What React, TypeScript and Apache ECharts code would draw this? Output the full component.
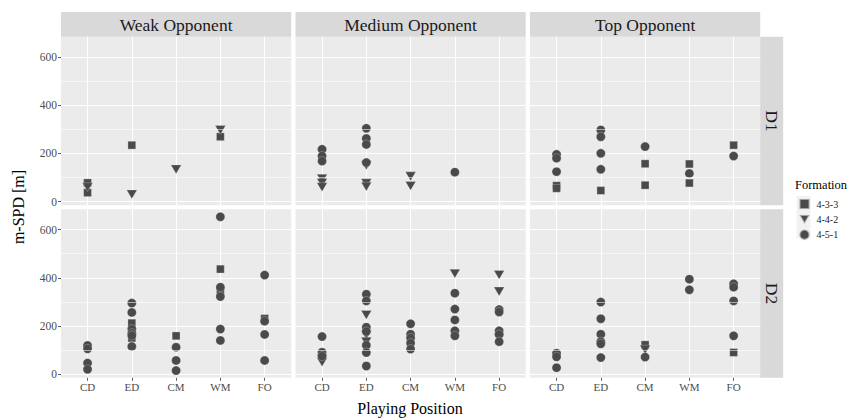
import React, { useEffect, useRef } from "react";
import * as echarts from "echarts";

const positions = ["CD", "ED", "CM", "WM", "FO"];
const opponents = ["Weak Opponent", "Medium Opponent", "Top Opponent"];
const divisions = ["D1", "D2"];
const formations = ["4-3-3", "4-4-2", "4-5-1"];
const yTicks = [0, 200, 400, 600];
const yMinor = [100, 300, 500];

type P = [string, number];

// D1
const weakD1_433: P[] = [["CD", 78], ["CD", 37], ["ED", 234], ["WM", 269]];
const weakD1_442: P[] = [["CD", 60], ["ED", 30], ["CM", 134], ["WM", 297]];
const weakD1_451: P[] = [];

const medD1_433: P[] = [];
const medD1_442: P[] = [["CD", 95], ["CD", 78], ["CD", 60], ["ED", 150], ["ED", 76], ["ED", 62], ["CM", 105], ["CM", 65]];
const medD1_451: P[] = [["CD", 217], ["CD", 189], ["CD", 168], ["ED", 304], ["ED", 262], ["ED", 237], ["ED", 162], ["WM", 122]];

const topD1_433: P[] = [["CD", 66], ["CD", 55], ["ED", 46], ["CM", 157], ["CM", 68], ["WM", 156], ["WM", 77], ["FO", 234]];
const topD1_442: P[] = [];
const topD1_451: P[] = [["CD", 196], ["CD", 180], ["CD", 124], ["ED", 297], ["ED", 269], ["ED", 200], ["ED", 134], ["CM", 228], ["WM", 117], ["FO", 189]];

// D2
const weakD2_433: P[] = [["ED", 212], ["ED", 150], ["CM", 159], ["WM", 436], ["WM", 347], ["FO", 231]];
const weakD2_442: P[] = [];
const weakD2_451: P[] = [
  ["CD", 119], ["CD", 105], ["CD", 46], ["CD", 20],
  ["ED", 295], ["ED", 256], ["ED", 187], ["ED", 170], ["ED", 160], ["ED", 115],
  ["CM", 112], ["CM", 57], ["CM", 15],
  ["WM", 653], ["WM", 361], ["WM", 322], ["WM", 187], ["WM", 140],
  ["FO", 411], ["FO", 220], ["FO", 165], ["FO", 57],
];

const medD2_433: P[] = [];
const medD2_442: P[] = [["CD", 62], ["CD", 50], ["ED", 246], ["ED", 163], ["ED", 135], ["WM", 417], ["FO", 412], ["FO", 343], ["FO", 150]];
const medD2_451: P[] = [
  ["CD", 156], ["CD", 91], ["CD", 75],
  ["ED", 332], ["ED", 304], ["ED", 195], ["ED", 177], ["ED", 120], ["ED", 90], ["ED", 34],
  ["CM", 209], ["CM", 166], ["CM", 150], ["CM", 129], ["CM", 104],
  ["WM", 336], ["WM", 270], ["WM", 225], ["WM", 180], ["WM", 159],
  ["FO", 268], ["FO", 258], ["FO", 180], ["FO", 165], ["FO", 135],
];

const topD2_433: P[] = [["CM", 122], ["FO", 90]];
const topD2_442: P[] = [["CM", 102]];
const topD2_451: P[] = [
  ["CD", 87], ["CD", 72], ["CD", 27],
  ["ED", 299], ["ED", 230], ["ED", 166], ["ED", 135], ["ED", 126], ["ED", 69],
  ["CM", 71], ["WM", 394], ["WM", 350],
  ["FO", 375], ["FO", 361], ["FO", 304], ["FO", 159],
];

const panels: P[][][][] = [
  [
    [weakD1_433, weakD1_442, weakD1_451],
    [medD1_433, medD1_442, medD1_451],
    [topD1_433, topD1_442, topD1_451],
  ],
  [
    [weakD2_433, weakD2_442, weakD2_451],
    [medD2_433, medD2_442, medD2_451],
    [topD2_433, topD2_442, topD2_451],
  ],
];

const FONT = "Liberation Serif";
const POINT = "#4A4A4A";
const TRI = "path://M0,0L10,0L5,8.66Z";
const symbols = ["rect", TRI, "circle"];
const symbolSizes: any[] = [7.8, [10.4, 8.8], 9];

const colLeft = [61, 295.5, 530];
const panelW = 230.2;
const rowTop = [36.7, 209.3];
const panelH = 168.5;

export default function App() {
  const ref = useRef<HTMLDivElement>(null);
  useEffect(() => {
    if (!ref.current) return;
    const chart = echarts.init(ref.current, null, { renderer: "svg" });
    const grids: any[] = [];
    const xAxes: any[] = [];
    const yAxes: any[] = [];
    const series: any[] = [];
    const graphics: any[] = [];

    for (let r = 0; r < 2; r++) {
      for (let c = 0; c < 3; c++) {
        const idx = r * 3 + c;
        grids.push({
          left: colLeft[c],
          top: rowTop[r],
          width: panelW,
          height: panelH,
          show: true,
          backgroundColor: "#EBEBEB",
          borderWidth: 0,
          containLabel: false,
        });
        xAxes.push({
          type: "value",
          gridIndex: idx,
          position: "bottom",
          min: -0.6,
          max: 4.6,
          axisLine: { show: false, onZero: false },
          axisTick: {
            show: r === 1,
            customValues: [0, 1, 2, 3, 4],
            length: 3,
            lineStyle: { color: "#333333", width: 0.8 },
          },
          axisLabel: {
            show: r === 1,
            customValues: [0, 1, 2, 3, 4],
            formatter: (v: number) => positions[Math.round(v)] ?? "",
            color: "#4D4D4D",
            fontFamily: FONT,
            fontSize: 11,
            margin: 4,
          },
          splitLine: { show: true, lineStyle: { color: "#FFFFFF", width: 1.1 } },
        });
        yAxes.push({
          type: "value",
          gridIndex: idx,
          position: "left",
          min: -15,
          max: 684,
          axisLine: { show: false, onZero: false },
          axisTick: {
            show: c === 0,
            customValues: yTicks,
            length: 3,
            lineStyle: { color: "#333333", width: 0.8 },
          },
          axisLabel: {
            show: c === 0,
            customValues: yTicks,
            color: "#4D4D4D",
            fontFamily: FONT,
            fontSize: 11.5,
            margin: 4,
          },
          splitLine: { show: true, lineStyle: { color: "#FFFFFF", width: 1.1 } },
        });
        series.push({
          type: "scatter",
          name: "_minor",
          xAxisIndex: idx,
          yAxisIndex: idx,
          data: [],
          z: 1,
          silent: true,
          markLine: {
            silent: true,
            symbol: ["none", "none"],
            label: { show: false },
            lineStyle: { color: "#FFFFFF", width: 0.55, type: "solid" },
            data: yMinor.map((v) => ({ yAxis: v })),
          },
        });
        for (let f = 0; f < 3; f++) {
          series.push({
            type: "scatter",
            name: formations[f],
            xAxisIndex: idx,
            yAxisIndex: idx,
            symbol: symbols[f],
            symbolSize: symbolSizes[f],
            itemStyle: { color: POINT, borderColor: "rgba(235,235,235,0.55)", borderWidth: 0.5, opacity: 1 },
            data: panels[r][c][f].map(([p, v]) => [positions.indexOf(p), v]),
            z: 3,
          });
        }
      }
    }

    const txt = (size: number, fill: string) => ({
      fill,
      fontFamily: FONT,
      fontSize: size,
      fontWeight: "normal",
      align: "center",
      verticalAlign: "middle",
    });

    // top strips
    for (let c = 0; c < 3; c++) {
      graphics.push({
        type: "rect",
        shape: { x: colLeft[c], y: 12, width: panelW, height: rowTop[0] - 12 },
        style: { fill: "#D9D9D9" },
      });
      graphics.push({
        type: "text",
        x: colLeft[c] + panelW / 2,
        y: (12 + rowTop[0]) / 2 + 1,
        style: { text: opponents[c], ...txt(17.5, "#1A1A1A") },
      });
    }
    // right strips
    const stripX = colLeft[2] + panelW;
    for (let r = 0; r < 2; r++) {
      graphics.push({
        type: "rect",
        shape: { x: stripX, y: rowTop[r], width: 23, height: panelH },
        style: { fill: "#D9D9D9" },
      });
      graphics.push({
        type: "text",
        x: stripX + 11.5,
        y: rowTop[r] + panelH / 2,
        rotation: -Math.PI / 2,
        style: { text: divisions[r], ...txt(17.5, "#1A1A1A") },
      });
    }
    // axis titles
    graphics.push({
      type: "text",
      x: 18,
      y: 207,
      rotation: Math.PI / 2,
      style: { text: "m-SPD [m]", ...txt(16, "#000000") },
    });
    graphics.push({
      type: "text",
      x: 410,
      y: 408,
      style: { text: "Playing Position", ...txt(16, "#000000") },
    });
    // legend title + key backgrounds
    graphics.push({
      type: "text",
      x: 795,
      y: 185,
      style: { text: "Formation", ...txt(12.5, "#000000"), align: "left" },
    });
    for (let i = 0; i < 3; i++) {
      graphics.push({
        type: "rect",
        shape: { x: 796.5, y: 196 + i * 14, width: 14, height: 14 },
        style: { fill: "#F2F2F2" },
        z: -1,
      });
    }

    chart.setOption({
      animation: false,
      backgroundColor: "#FFFFFF",
      grid: grids,
      xAxis: xAxes,
      yAxis: yAxes,
      series,
      legend: {
        orient: "vertical",
        left: 798.5,
        top: 198,
        itemWidth: 10,
        itemHeight: 10,
        itemGap: 4,
        selectedMode: false,
        textStyle: { color: "#1A1A1A", fontFamily: FONT, fontSize: 10, padding: [0, 0, 0, 2] },
        padding: 0,
        data: [
          { name: "4-3-3", icon: "rect", itemStyle: { color: POINT } },
          { name: "4-4-2", icon: TRI, itemStyle: { color: POINT } },
          { name: "4-5-1", icon: "circle", itemStyle: { color: POINT } },
        ],
      },
      graphic: graphics,
    });
    return () => chart.dispose();
  }, []);
  return (
    <div
      ref={ref}
      style={{ position: "fixed", left: 0, top: 0, width: 847, height: 418, background: "#fff" }}
    />
  );
}
